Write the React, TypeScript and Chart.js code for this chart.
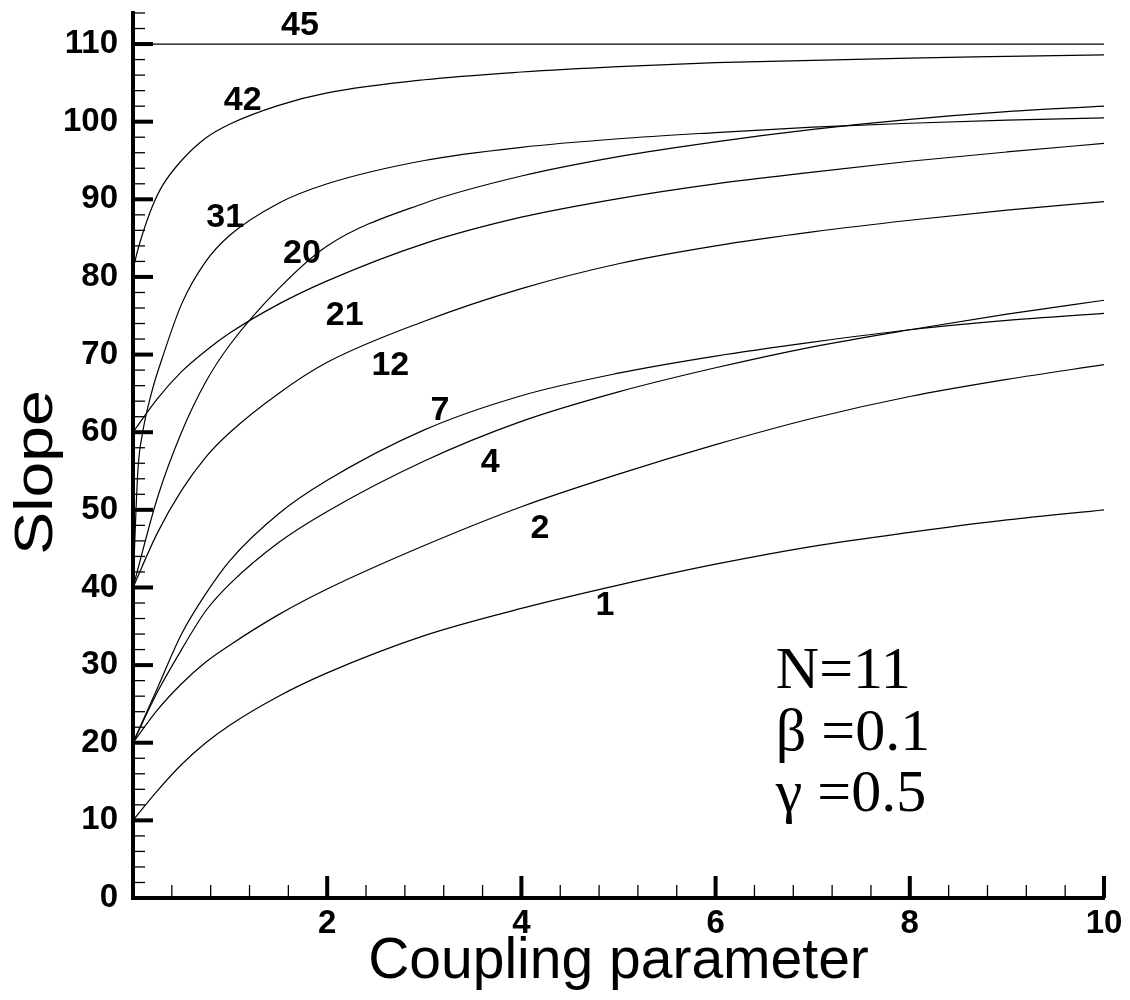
import { useEffect, useRef } from "react";
import { Chart, registerables } from "chart.js";

Chart.register(...registerables);

// Coupling-parameter sample points shared by most curves
const couplingGrid = [0, 0.25, 0.5, 0.75, 1, 1.5, 2, 3, 4, 5, 6, 7, 8, 9, 10];
// Finer sampling near zero for the fast-rising curves
const steepGrid = [0, 0.05, 0.1, 0.2, 0.3, 0.5, 0.75, 1, 1.5, 2, 3, 4, 5, 6, 7, 8, 9, 10];
const flatGrid = [0, 10];

// Slope values per mode
const slope1 = [10, 13.8, 17.2, 20, 22.3, 26, 29, 33.8, 37.3, 40.3, 43.0, 45.3, 47.1, 48.7, 50];
const slope2 = [20, 24.2, 27.6, 30.4, 32.6, 36.5, 39.8, 45.4, 50.4, 54.6, 58.4, 61.8, 64.6, 66.8, 68.7];
const slope4 = [20, 26.5, 32, 37, 40.5, 45.8, 49.8, 56.3, 61.4, 65.2, 68.3, 71.0, 73.2, 75.2, 77.0];
const slope7 = [20, 27, 34, 39.2, 43.5, 49.5, 53.8, 60.3, 64.7, 67.6, 69.8, 71.6, 73.2, 74.4, 75.3];
const slope12 = [40, 47, 52.5, 56.8, 60, 65, 69, 74.3, 78.5, 81.7, 84.0, 85.8, 87.3, 88.6, 89.7];
const slope20 = [40, 51.5, 60, 66.5, 71.3, 78.5, 84, 89.5, 93, 95.5, 97.4, 99.0, 100.3, 101.3, 102.0];
const slope21 = [60, 64.3, 67.8, 70.5, 72.8, 76.5, 79.5, 84.3, 87.7, 90.1, 92, 93.5, 94.9, 96.1, 97.2];
const slope31 = [40, 55, 60, 65.5, 69.5, 76.5, 82, 85.4, 89.5, 92, 95, 96.7, 97.8, 98.6, 99.3, 99.8, 100.2, 100.5];
const slope42 = [81, 83.5, 85.6, 89.1, 91.7, 95.0, 97.9, 99.7, 102.1, 103.7, 105.4, 106.4, 107.1, 107.6, 107.9, 108.2, 108.4, 108.6];
const slope45 = [110, 110];

const curveNames = ["1", "2", "4", "7", "12", "20", "21", "31", "42", "45"];
const curveGrids = [couplingGrid, couplingGrid, couplingGrid, couplingGrid, couplingGrid, couplingGrid, couplingGrid, steepGrid, steepGrid, flatGrid];
const curveValues = [slope1, slope2, slope4, slope7, slope12, slope20, slope21, slope31, slope42, slope45];

// Where each curve's number is written, in (coupling, slope) units
const curveLabelAnchors = [
  [4.86, 37.7],
  [4.19, 47.6],
  [3.68, 56.1],
  [3.16, 62.8],
  [2.65, 68.6],
  [1.74, 83.0],
  [2.18, 75.0],
  [0.95, 87.6],
  [1.13, 102.7],
  [1.72, 112.4],
];

const paramLines = ["N=11", "\u03b2 =0.1", "\u03b3 =0.5"];
const paramAnchor = [6.62, 27.0];
const paramLineStep = 7.9;

const X_MAX = 10;
const Y_MAX = 114;

const sansFont = "'Liberation Sans', Arial, sans-serif";
const serifFont = "'Liberation Serif', 'Times New Roman', serif";

const decorPlugin = {
  id: "decor",
  afterDatasetsDraw(chart: any) {
    const { ctx, chartArea } = chart;
    const xs = chart.scales.x;
    const ys = chart.scales.y;
    ctx.save();
    ctx.strokeStyle = "#000";
    ctx.lineCap = "butt";

    // inward tick marks on the left axis
    ys.ticks.forEach((t: any) => {
      const v = t.value;
      const major = Math.abs(v / 10 - Math.round(v / 10)) < 1e-6;
      const py = ys.getPixelForValue(v);
      ctx.lineWidth = major ? 4 : 1.3;
      ctx.beginPath();
      ctx.moveTo(chartArea.left, py);
      ctx.lineTo(chartArea.left + (major ? 20 : 12), py);
      ctx.stroke();
    });

    // inward tick marks on the bottom axis
    xs.ticks.forEach((t: any) => {
      const v = t.value;
      if (v <= 0) return;
      const major = Math.abs(v / 2 - Math.round(v / 2)) < 1e-6;
      const px = xs.getPixelForValue(v);
      ctx.lineWidth = major ? 4 : 1.3;
      ctx.beginPath();
      ctx.moveTo(px, chartArea.bottom);
      ctx.lineTo(px, chartArea.bottom - (major ? 22 : 13));
      ctx.stroke();
    });

    // curve numbers
    ctx.fillStyle = "#000";
    ctx.font = `bold 34px ${sansFont}`;
    ctx.textAlign = "center";
    ctx.textBaseline = "middle";
    curveNames.forEach((name, i) => {
      const [ax, ay] = curveLabelAnchors[i];
      ctx.fillText(name, xs.getPixelForValue(ax), ys.getPixelForValue(ay));
    });

    // parameter block
    ctx.font = `60px ${serifFont}`;
    ctx.textAlign = "left";
    ctx.textBaseline = "alphabetic";
    paramLines.forEach((line, i) => {
      ctx.fillText(
        line,
        xs.getPixelForValue(paramAnchor[0]),
        ys.getPixelForValue(paramAnchor[1] - i * paramLineStep)
      );
    });

    // vertical axis title, set along the axis and slightly widened
    ctx.save();
    ctx.translate(52, (chartArea.top + chartArea.bottom) / 2 + 17);
    ctx.rotate(-Math.PI / 2);
    ctx.scale(1.19, 1);
    ctx.font = `54px ${sansFont}`;
    ctx.textAlign = "center";
    ctx.textBaseline = "alphabetic";
    ctx.fillText("Slope", 0, 0);
    ctx.restore();

    ctx.restore();
  },
};

export default function App() {
  const canvasRef = useRef<HTMLCanvasElement | null>(null);

  useEffect(() => {
    const canvas = canvasRef.current;
    if (!canvas) return;

    const datasets = curveNames.map((name, i) => ({
      label: name,
      data: curveGrids[i].map((x, j) => ({ x, y: curveValues[i][j] })),
      borderColor: "#000",
      borderWidth: 1.2,
      pointRadius: 0,
      fill: false,
      cubicInterpolationMode: "monotone" as const,
    }));

    const chart = new Chart(canvas, {
      type: "line",
      data: { datasets },
      options: {
        animation: false,
        responsive: false,
        devicePixelRatio: 1,
        layout: { padding: { top: 13, right: 26, left: 0, bottom: 0 } },
        plugins: {
          legend: { display: false },
          tooltip: { enabled: false },
        },
        scales: {
          x: {
            type: "linear",
            min: 0,
            max: X_MAX,
            grid: { display: false, drawTicks: false },
            border: { display: true, width: 4, color: "#000" },
            ticks: {
              stepSize: 0.4,
              maxTicksLimit: 200,
              autoSkip: false,
              maxRotation: 0,
              padding: 6,
              color: "#000",
              font: { family: sansFont, size: 33, weight: "bold" },
              callback: (v: any) => {
                const n = Number(v);
                if (n <= 0) return "";
                return Math.abs(n / 2 - Math.round(n / 2)) < 1e-6 ? String(Math.round(n)) : "";
              },
            },
            title: {
              display: true,
              text: "Coupling parameter",
              color: "#000",
              font: { family: sansFont, size: 57, weight: "normal" },
              padding: { top: 0, bottom: 4 },
            },
            afterFit: (s: any) => {
              s.height = 102;
              s.paddingLeft = 0;
              s.paddingRight = 0;
            },
          },
          y: {
            type: "linear",
            min: 0,
            max: Y_MAX,
            grid: { display: false, drawTicks: false },
            border: { display: true, width: 4, color: "#000" },
            ticks: {
              stepSize: 2,
              maxTicksLimit: 200,
              autoSkip: false,
              padding: 15,
              color: "#000",
              font: { family: sansFont, size: 33, weight: "bold" },
              callback: (v: any) => {
                const n = Number(v);
                return n % 10 === 0 && n <= 110 ? String(n) : "";
              },
            },
            title: { display: false },
            afterFit: (s: any) => {
              s.width = 133;
              s.paddingTop = 0;
              s.paddingBottom = 0;
            },
          },
        },
      },
      plugins: [decorPlugin],
    });

    return () => chart.destroy();
  }, []);

  return (
    <div style={{ position: "absolute", left: 0, top: 0, width: 1130, height: 1000, background: "#fff" }}>
      <canvas ref={canvasRef} width={1130} height={1000} style={{ display: "block" }} />
    </div>
  );
}
